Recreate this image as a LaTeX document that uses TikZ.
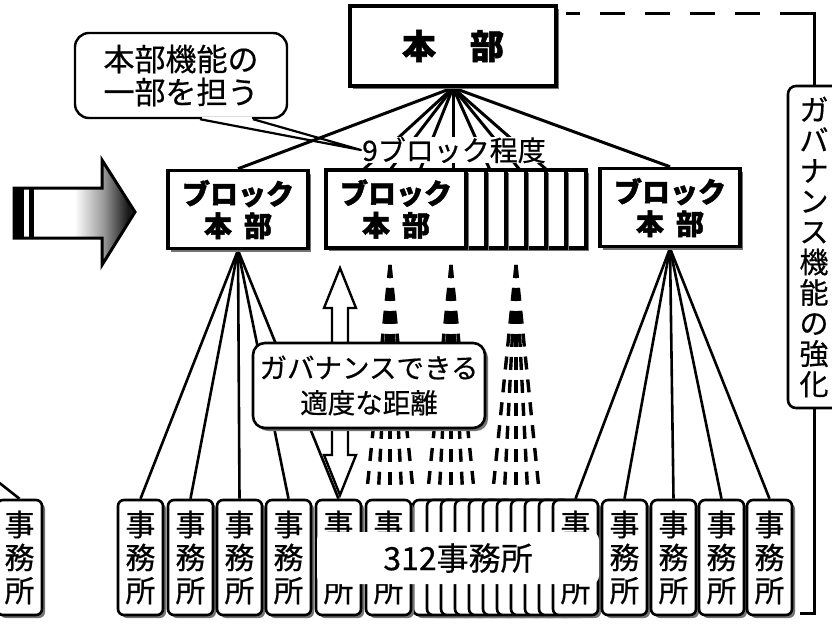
\documentclass[tikz,border=0pt]{standalone}
\usepackage{fontspec}
\setmainfont{Noto Sans CJK JP}[FakeBold=0.5,BoldFeatures={FakeBold=1.6}]
\usetikzlibrary{shadows}
\pgfdeclarelayer{paper}
\pgfdeclarelayer{bg}
\pgfsetlayers{paper,bg,main}
\pgfdeclarehorizontalshading{arrowfade}{100bp}{color(0bp)=(white); color(50bp)=(white); color(62bp)=(black!40); color(72bp)=(black!90); color(100bp)=(black)}
\begin{document}
\begin{tikzpicture}[x=1pt,y=-1pt,
  boxshadow/.style={drop shadow={shadow xshift=3pt,shadow yshift=-3pt,fill=black!55,opacity=1}},
  hqbox/.style={draw,line width=3.5pt,fill=white,minimum width=206pt,minimum height=80pt,inner sep=0pt,font=\fontsize{34}{36}\selectfont\bfseries,boxshadow},
  blockbox/.style={draw,line width=3.5pt,fill=white,minimum width=140pt,minimum height=78pt,inner sep=0pt,align=center,font=\fontsize{28}{32}\selectfont\bfseries,boxshadow},
  officebox/.style={draw,line width=2.6pt,fill=white,rounded corners=6pt,minimum width=45pt,minimum height=115pt,inner sep=0pt,align=center,font=\fontsize{30}{33}\selectfont,boxshadow},
  callbox/.style={draw,line width=2.4pt,fill=white,rounded corners=14pt,minimum width=212pt,minimum height=85pt,inner sep=0pt,align=center,font=\fontsize{31}{33}\selectfont},
  distbox/.style={draw,line width=2.6pt,fill=white,rounded corners=12pt,minimum width=232pt,minimum height=85pt,inner sep=0pt,align=center,font=\fontsize{27.5}{35}\selectfont,boxshadow},
  govbox/.style={draw,line width=2.6pt,fill=white,rounded corners=8pt,minimum width=52pt,minimum height=322pt,inner sep=0pt,align=center,font=\fontsize{29}{30.5}\selectfont},
  whitelabel/.style={fill=white,inner sep=0pt},
  fanline/.style={line width=3pt},
  leafline/.style={line width=2.6pt},
  fandash/.style={line width=3.4pt,dash pattern=on 13pt off 10pt},
  bracket/.style={line width=3pt}
]
\begin{pgfonlayer}{paper}
\fill[white] (0,0) rectangle (832,624);
\end{pgfonlayer}
\useasboundingbox (0,0) rectangle (832,624);

% big arrow on the left
\shade[shading=arrowfade] (14,188) -- (102,188) -- (102,160) -- (135,212) -- (102,265) -- (102,238) -- (14,238) -- cycle;
\draw[line width=3pt,line join=miter] (14,188) -- (102,188) -- (102,160) -- (135,212) -- (102,265) -- (102,238) -- (14,238) -- cycle;
\fill (14,188) rectangle (24,238);
\fill (29,188) rectangle (34,238);

% headquarters
\node[hqbox] (hq) at (453,46) {本　部};

% block headquarters
\foreach \k in {6,5,...,1} \node[blockbox] (stk\k) at (396+20*\k,209) {};
\node[blockbox] (lb) at (238,209.5) {ブロック\\本\hspace{12pt}部};
\node[blockbox] (mb) at (396,209) {ブロック\\本\hspace{12pt}部};
\node[blockbox] (rb) at (670,207.5) {ブロック\\本\hspace{12pt}部};

\node[whitelabel,font=\fontsize{28}{28}\selectfont] (nine) at (454,150) {9ブロック程度};

% double arrow
\filldraw[fill=white,line width=2.4pt,line join=miter] (340,268) -- (356,308) -- (348,308) -- (348,455) -- (356,455) -- (340,495) -- (324,455) -- (332,455) -- (332,308) -- (324,308) -- cycle;

% offices
\node[officebox] (o0) at (19.5,557.5) {事\\務\\所};
\foreach \k in {1,...,10} \node[officebox] (so\k) at (421.5+14*\k,557.5) {};
\foreach \x [count=\i] in {140.5,190.5,239.5,288.5} \node[officebox] (o\i) at (\x,557.5) {事\\務\\所};
\foreach \x [count=\i from 5] in {338.5,388.5} \node[officebox] (o\i) at (\x,557.5) {事\\\phantom{務}\\所};
\node[officebox] (o7) at (575.5,557.5) {事\\\phantom{務}\\所};
\foreach \x [count=\i from 8] in {624.5,673.5,721.5,769.5} \node[officebox] (o\i) at (\x,557.5) {事\\務\\所};

\node[whitelabel,rounded corners=8pt,minimum width=282pt,minimum height=52pt,font=\fontsize{32}{32}\selectfont] (cnt) at (458,558) {312事務所};

% distance callout
\node[distbox] (dist) at (369,385.5) {ガバナンスできる\\適度な距離};

% governance box and bracket
\node[govbox] (gov) at (814,247) {ガ\\バ\\ナ\\ン\\ス\\機\\能\\の\\強\\化};
\coordinate (ds) at (566,13);
\coordinate (de) at (785,13);
\coordinate (gc) at (814,13);
\coordinate (gb) at (814,613);
\coordinate (ge) at (800,613);
\draw[bracket,dash pattern=on 25pt off 20pt,dash phase=11pt] (ds) -- (de);
\draw[bracket] (de) -- (gc) -- (gov.north);
\draw[bracket] (gov.south) -- (gb) -- (ge);

\begin{pgfonlayer}{bg}
% callout with tail
\node[callbox] (cb) at (181,75.5) {本部機能の\\一部を担う};
\coordinate (tip) at (361,150);
\fill[white] ([xshift=19pt]cb.south) -- (tip) -- ([xshift=72pt]cb.south) -- cycle;
\fill[white] ([xshift=20.5pt,yshift=2pt]cb.south) rectangle ([xshift=70.5pt,yshift=-1.5pt]cb.south);
\draw[line width=2.2pt,line join=round] ([xshift=19pt]cb.south) -- (tip) -- ([xshift=72pt]cb.south);
% fan from headquarters
\foreach \x [count=\i] in {363,390,420,453,490,520,547} \coordinate (t\i) at (\x,170);
\draw[fanline] (hq.south) -- (lb.north);
\draw[fanline] (hq.south) -- (rb.north);
\foreach \i in {1,...,7} \draw[fanline] (hq.south) -- (t\i);
% faded fans in the middle
\foreach \cx [count=\i] in {390,451,516} {
  \coordinate (fan\i) at (\cx,265);
  \foreach \k in {0,...,4} {
    \coordinate (fe\i x\k) at (\cx+11.5*\k-23,490);
    \draw[fandash] (fan\i) -- (fe\i x\k);
  }
}
% block to offices
\foreach \i in {1,...,5} \draw[leafline] (lb.south) -- (o\i.north);
\foreach \i in {7,...,11} \draw[leafline] (rb.south) -- (o\i.north);
\coordinate (offl) at (-3,481);
\draw[leafline] (offl) -- (o0.north);
\end{pgfonlayer}
\end{tikzpicture}
\end{document}
